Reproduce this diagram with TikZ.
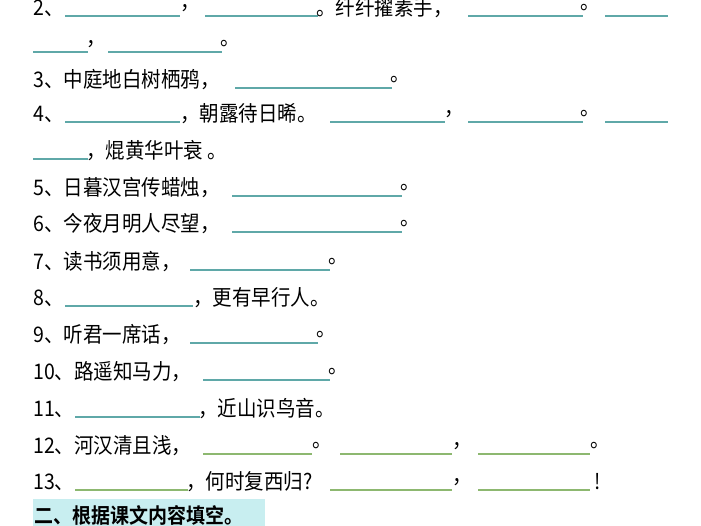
\documentclass[tikz,border=0pt]{standalone}
\usepackage{fontspec}
\setmainfont{Noto Sans CJK SC}
\newfontfamily\cjkb{Noto Sans CJK SC Bold}
\definecolor{bl}{HTML}{5FA8A8}
\definecolor{gr}{HTML}{8DB870}
\definecolor{hl}{HTML}{C8EEF0}
\newcommand{\sg}[4]{\node[tx] (#1) at (#2,#3) {#4};}
\newcommand{\bk}[4][bl]{\draw[#1,line width=1.2pt] (#2,#4+8) -- (#3,#4+8);}
\begin{document}
\begin{tikzpicture}[x=1pt,y=-1pt,tx/.style={anchor=west,inner sep=0pt,yscale=1.1,font=\fontsize{19.5}{20}\selectfont}]
\fill[white] (0,0) rectangle (701,526);
\useasboundingbox (0,0) rectangle (701,526);
\begin{scope}
\clip (0,0) rectangle (701,526);
% line 2
\sg{a1}{33}{8}{2、}\bk{65}{180}{8}\sg{a2}{180}{8}{，}\bk{205}{318}{8}\sg{a3}{316}{8}{。纤纤擢素手，}\bk{468}{583}{8}\sg{a4}{580}{8}{。}\bk{605}{668}{8}
\bk{33}{88}{44}\sg{b1}{86}{44}{，}\bk{108}{222}{44}\sg{b2}{220}{44}{。}
% 3
\sg{c1}{33}{80}{3、中庭地白树栖鸦，}\bk{235}{392}{80}\sg{c2}{390}{80}{。}
% 4
\sg{d1}{33}{114}{4、}\bk{65}{180}{114}\sg{d2}{180}{114}{，朝露待日晞。}\bk{330}{445}{114}\sg{d3}{444}{114}{，}\bk{468}{583}{114}\sg{d4}{580}{114}{。}\bk{605}{668}{114}
\bk{33}{88}{151}\sg{e1}{86}{151}{，焜黄华叶衰 。}
% 5,6
\sg{f1}{33}{188}{5、日暮汉宫传蜡烛，}\bk{232}{402}{188}\sg{f2}{400}{188}{。}
\sg{g1}{33}{224}{6、今夜月明人尽望，}\bk{232}{402}{224}\sg{g2}{400}{224}{。}
% 7
\sg{h1}{33}{262}{7、读书须用意，}\bk{190}{330}{262}\sg{h2}{328}{262}{。}
% 8
\sg{i1}{33}{298}{8、}\bk{65}{193}{298}\sg{i2}{193}{298}{，更有早行人。}
% 9
\sg{j1}{33}{335}{9、听君一席话，}\bk{190}{318}{335}\sg{j2}{316}{335}{。}
% 10
\sg{k1}{33}{372}{10、路遥知马力，}\bk{203}{330}{372}\sg{k2}{328}{372}{。}
% 11
\sg{l1}{33}{409}{11、}\bk{75}{200}{409}\sg{l2}{198}{409}{，近山识鸟音。}
% 12
\sg{m1}{33}{446}{12、河汉清且浅，}\bk[gr]{203}{312}{446}\sg{m2}{312}{446}{。}\bk[gr]{340}{452}{446}\sg{m3}{452}{446}{，}\bk[gr]{478}{590}{446}\sg{m4}{590}{446}{。}
% 13
\sg{n1}{33}{482}{13、}\bk[gr]{75}{188}{482}\sg{n2}{186}{482}{，何时复西归?}\bk[gr]{330}{452}{482}\sg{n3}{452}{482}{，}\bk[gr]{478}{590}{482}\sg{n4}{594}{482}{!}
% section
\fill[hl] (33,499) rectangle (265,526);
\node[tx,font=\cjkb\fontsize{19}{19}\selectfont] (s) at (34,515) {二、根据课文内容填空。};
\end{scope}
\end{tikzpicture}
\end{document}
